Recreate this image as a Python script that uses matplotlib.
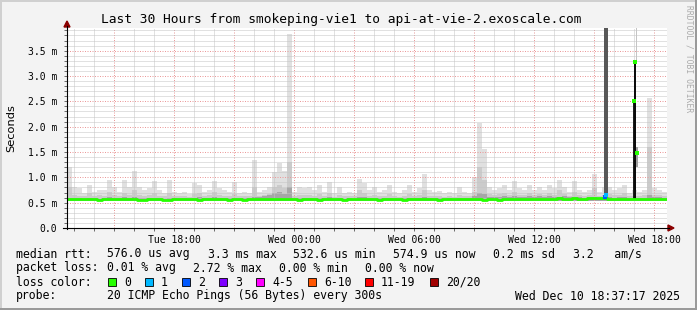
import numpy as np
import matplotlib
matplotlib.use('Agg')
import matplotlib.pyplot as plt
from matplotlib.patches import Rectangle, Polygon
from matplotlib.lines import Line2D

W, H = 697, 310

# time axis in hours since Tue 00:00, 15 minute steps
t_start = 12.65
t_step = 0.25

# top of the lightest smoke (slowest ping), ms
ping_max = [1.20, 0.80, 0.78, 0.70, 0.85, 0.72, 0.75, 0.75, 0.95, 0.80,
            0.72, 0.95, 0.80, 1.13, 0.80, 0.75, 0.78, 0.92, 0.75, 0.70,
            0.95, 0.72, 0.70, 0.72, 0.68, 0.88, 0.85, 0.72, 0.75, 0.93,
            0.78, 0.75, 0.72, 0.90, 0.70, 0.72, 0.70, 1.34, 0.72, 0.75,
            0.80, 1.10, 1.28, 1.12, 3.82, 0.72, 0.80, 0.78, 0.80, 0.75,
            0.85, 0.72, 0.90, 0.70, 0.80, 0.70, 0.72, 0.70, 0.96, 0.88,
            0.75, 0.80, 0.72, 0.75, 0.85, 0.72, 0.70, 0.75, 0.85, 0.72,
            0.78, 1.06, 0.75, 0.72, 0.73, 0.70, 0.72, 0.70, 0.80, 0.72,
            0.70, 1.00, 2.07, 1.55, 0.80, 0.75, 0.78, 0.85, 0.75, 0.93,
            0.78, 0.75, 0.85, 0.75, 0.80, 0.75, 0.85, 0.78, 0.95, 0.80,
            0.72, 0.92, 0.75, 0.72, 0.75, 1.06, 0.72, 0.80, 0.80, 0.75,
            0.78, 0.85, 0.70, 0.75, 0.72, 0.75, 2.56, 0.78, 0.75, 0.72]

# top of the medium smoke
ping_mid = [0.80, 0.66, 0.64, 0.63, 0.70, 0.64, 0.65, 0.64, 0.72, 0.66,
            0.64, 0.70, 0.66, 0.75, 0.66, 0.64, 0.65, 0.70, 0.64, 0.63,
            0.70, 0.64, 0.63, 0.64, 0.62, 0.68, 0.70, 0.64, 0.65, 0.72,
            0.66, 0.64, 0.63, 0.68, 0.63, 0.64, 0.63, 0.80, 0.64, 0.66,
            0.68, 0.80, 0.85, 0.78, 1.30, 0.64, 0.66, 0.65, 0.66, 0.64,
            0.68, 0.63, 0.70, 0.62, 0.66, 0.63, 0.64, 0.63, 0.75, 0.70,
            0.64, 0.66, 0.63, 0.64, 0.68, 0.63, 0.62, 0.64, 0.68, 0.63,
            0.65, 0.75, 0.64, 0.63, 0.64, 0.62, 0.63, 0.62, 0.66, 0.63,
            0.63, 0.72, 1.20, 0.95, 0.68, 0.66, 0.67, 0.70, 0.66, 0.72,
            0.66, 0.65, 0.70, 0.66, 0.68, 0.65, 0.70, 0.66, 0.75, 0.68,
            0.64, 0.72, 0.65, 0.64, 0.65, 0.78, 0.64, 0.66, 0.68, 0.65,
            0.66, 0.70, 0.63, 0.64, 0.64, 0.65, 1.60, 0.66, 0.65, 0.64]

# top of the dark smoke near the median
ping_core = [0.60, 0.59, 0.59, 0.58, 0.60, 0.59, 0.58, 0.59, 0.61, 0.60,
             0.59, 0.61, 0.60, 0.62, 0.60, 0.59, 0.59, 0.60, 0.59, 0.58,
             0.60, 0.59, 0.58, 0.59, 0.58, 0.60, 0.61, 0.59, 0.59, 0.61,
             0.60, 0.59, 0.59, 0.60, 0.58, 0.59, 0.58, 0.62, 0.62, 0.64,
             0.66, 0.70, 0.72, 0.68, 0.80, 0.59, 0.60, 0.60, 0.60, 0.59,
             0.60, 0.59, 0.61, 0.58, 0.60, 0.58, 0.59, 0.58, 0.62, 0.61,
             0.59, 0.60, 0.59, 0.59, 0.60, 0.59, 0.58, 0.59, 0.60, 0.59,
             0.59, 0.62, 0.59, 0.59, 0.59, 0.58, 0.59, 0.58, 0.60, 0.59,
             0.59, 0.64, 0.70, 0.68, 0.62, 0.61, 0.62, 0.63, 0.62, 0.64,
             0.62, 0.61, 0.63, 0.62, 0.64, 0.62, 0.63, 0.61, 0.62, 0.63,
             0.61, 0.62, 0.61, 0.60, 0.61, 0.62, 0.60, 0.62, 0.61, 0.60,
             0.61, 0.62, 0.60, 0.60, 0.60, 0.60, 0.66, 0.61, 0.61, 0.60]

ping_floor = 0.53

median_rtt = [0.57, 0.58, 0.57, 0.57, 0.58, 0.57, 0.56, 0.57, 0.57, 0.58,
              0.57, 0.57, 0.58, 0.57, 0.56, 0.56, 0.57, 0.58, 0.57, 0.56,
              0.56, 0.57, 0.57, 0.58, 0.57, 0.57, 0.56, 0.57, 0.58, 0.57,
              0.57, 0.57, 0.56, 0.57, 0.57, 0.56, 0.57, 0.57, 0.57, 0.58,
              0.57, 0.58, 0.57, 0.58, 0.58, 0.57, 0.56, 0.57, 0.57, 0.57,
              0.56, 0.57, 0.57, 0.58, 0.57, 0.56, 0.57, 0.57, 0.58, 0.57,
              0.58, 0.57, 0.56, 0.57, 0.58, 0.57, 0.57, 0.56, 0.57, 0.57,
              0.57, 0.58, 0.57, 0.57, 0.56, 0.57, 0.57, 0.57, 0.58, 0.57,
              0.57, 0.58, 0.57, 0.56, 0.57, 0.57, 0.56, 0.57, 0.57, 0.58,
              0.57, 0.57, 0.58, 0.58, 0.57, 0.57, 0.58, 0.58, 0.59, 0.58,
              0.58, 0.59, 0.58, 0.58, 0.59, 0.59, 0.60, 0.60, 0.58, 0.58,
              0.57, 0.58, 0.57, 0.57, 0.57, 0.58, 0.57, 0.57, 0.58, 0.57]

# short outage columns (hours, ms)
event_start = [39.48, 40.93, 41.00, 41.08, 41.12]
event_end = [39.68, 41.00, 41.12, 41.14, 41.18]
event_lo = [0.55, 0.55, 0.55, 3.30, 1.20]
event_hi = [3.95, 2.50, 3.30, 3.95, 1.60]
event_color = ['#585858', '#1e1e1e', '#0c0c0c', '#c4c4c4', '#a0a0a0']

# median samples during the outage
spike_t = [40.98, 41.07, 41.15]
spike_v = [2.50, 3.27, 1.48]
loss_t = [39.53, 39.60]
loss_v = [0.62, 0.66]
loss_c = ['#0059ff', '#00b8ff']

tick_hours = [15, 18, 21, 24, 27, 30, 33, 36, 39, 42]
tick_labels = ['', 'Tue 18:00', '', 'Wed 00:00', '', 'Wed 06:00', '',
               'Wed 12:00', '', 'Wed 18:00']
y_ticks = [0.0, 0.5, 1.0, 1.5, 2.0, 2.5, 3.0, 3.5]
y_labels = ['0.0', '0.5 m', '1.0 m', '1.5 m', '2.0 m', '2.5 m', '3.0 m', '3.5 m']

loss_names = ['0', '1', '2', '3', '4-5', '6-10', '11-19', '20/20']
loss_colors = ['#26ff00', '#00b8ff', '#0059ff', '#7e00ff', '#ff00ff',
               '#ff5500', '#ff0000', '#a10000']
loss_box_x = [108, 145, 182, 219, 256, 308, 365, 430]

rtt_items = ['576.0 us avg', '3.3 ms max', '532.6 us min', '574.9 us now',
             '0.2 ms sd', '3.2   am/s']
rtt_x = [107, 208, 293, 393, 493, 573]
loss_items = ['0.01 % avg', '2.72 % max', '0.00 % min', '0.00 % now']
loss_x = [107, 193, 279, 365]

plt.rcParams['font.family'] = ['DejaVu Sans Mono']

fig = plt.figure(figsize=(W / 100, H / 100), dpi=100, facecolor='#f3f3f3')


def fx(x):
    return x / W


def fy(y):
    return 1 - y / H


def ptext(x, y, s, **kw):
    fig.text(fx(x), fy(y), s, **kw)


ax = fig.add_axes([fx(67), fy(228), 600 / W, 200 / H])
ax.set_facecolor('white')
ax.set_xlim(12.65, 42.65)
ax.set_ylim(0, 200 / 50.67)
for s in ax.spines.values():
    s.set_visible(False)

n = len(ping_max)
edges = t_start + t_step * np.arange(n + 1)


def ext(v):
    return np.append(v, v[-1])


ax.fill_between(edges, ping_floor, ext(ping_max), step='post', color='#e0e0e0', lw=0, zorder=1)
ax.fill_between(edges, ping_floor, ext(ping_mid), step='post', color='#cbcbcb', lw=0, zorder=1)
ax.fill_between(edges, ping_floor, ext(ping_core), step='post', color='#a6a6a6', lw=0, zorder=1)

for s0, s1, lo, hi, c in zip(event_start, event_end, event_lo, event_hi, event_color):
    ax.add_patch(Rectangle((s0, lo), s1 - s0, hi - lo, facecolor=c, lw=0, zorder=2.2))

ax.step(edges, ext(median_rtt), where='post', color='#26ff00', lw=2.0, zorder=3)
ax.plot(spike_t, spike_v, 's', color='#26ff00', ms=2.5, mew=0, zorder=3)
for t, v, c in zip(loss_t, loss_v, loss_c):
    ax.plot([t], [v], 's', color=c, ms=3, mew=0, zorder=3.5)

# grid
ax.set_xticks(tick_hours)
ax.set_xticklabels(tick_labels)
ax.set_xticks(np.arange(13, 43, 1), minor=True)
ax.set_yticks(y_ticks)
ax.set_yticklabels(y_labels)
ax.set_yticks(np.arange(0.1, 3.95, 0.1), minor=True)
ax.set_axisbelow('line')
ax.grid(which='minor', color='#c4c4c4', linestyle=(0, (1, 1)), lw=0.72)
ax.grid(which='major', color='#eb9a9a', linestyle=(0, (1, 1.5)), lw=0.72)
ax.tick_params(which='both', direction='out', length=2, width=0.6, color='#555555',
               labelsize=7, pad=3)
ax.tick_params(axis='y', pad=5)

# axes lines with arrows
fig.add_artist(Line2D([fx(67), fx(67)], [fy(229), fy(26)], color='black', lw=0.8))
fig.add_artist(Line2D([fx(63), fx(669)], [fy(228), fy(228)], color='black', lw=0.8))
fig.add_artist(Polygon([(fx(67), fy(21)), (fx(64), fy(27)), (fx(70), fy(27))],
                       closed=True, color='#8b0000', transform=fig.transFigure))
fig.add_artist(Polygon([(fx(674), fy(228)), (fx(668), fy(225)), (fx(668), fy(231))],
                       closed=True, color='#8b0000', transform=fig.transFigure))

# frame
fig.add_artist(Rectangle((0, 0), fx(2), 1, color='#d0d0d0', lw=0, transform=fig.transFigure))
fig.add_artist(Rectangle((0, fy(2)), 1, 2 / H, color='#d0d0d0', lw=0, transform=fig.transFigure))
fig.add_artist(Rectangle((0, 0), 1, 2 / H, color='#9a9a9a', lw=0, transform=fig.transFigure))
fig.add_artist(Rectangle((fx(695), 0), fx(2), 1, color='#9a9a9a', lw=0, transform=fig.transFigure))

ptext(341, 19, 'Last 30 Hours from smokeping-vie1 to api-at-vie-2.exoscale.com',
      ha='center', va='center', fontsize=9.3)
ptext(11, 128, 'Seconds', rotation=90, ha='center', va='center', fontsize=8.2,
      family='DejaVu Sans')
ptext(689, 5, 'RRDTOOL / TOBI OETIKER', rotation=270, ha='center', va='top',
      fontsize=5.8, color='#ababab')

# legend block
ptext(16, 254, 'median rtt:', va='center', fontsize=8.3)
for s, x in zip(rtt_items, rtt_x):
    ptext(x, 254, s, va='center', fontsize=8.3)
ptext(16, 268, 'packet loss:', va='center', fontsize=8.3)
for s, x in zip(loss_items, loss_x):
    ptext(x, 268, s, va='center', fontsize=8.3)
ptext(16, 282, 'loss color:', va='center', fontsize=8.3)
for name, c, x in zip(loss_names, loss_colors, loss_box_x):
    fig.add_artist(Rectangle((fx(x), fy(286)), 8 / W, 8 / H, facecolor=c,
                             edgecolor='black', lw=0.6, transform=fig.transFigure))
    ptext(x + 16, 282, name, va='center', fontsize=8.3)
ptext(16, 296, 'probe:', va='center', fontsize=8.3)
ptext(107, 296, '20 ICMP Echo Pings (56 Bytes) every 300s', va='center', fontsize=8.3)
ptext(680, 296, 'Wed Dec 10 18:37:17 2025', ha='right', va='center', fontsize=8.3)

fig.savefig('out.png', dpi=100, facecolor=fig.get_facecolor())
